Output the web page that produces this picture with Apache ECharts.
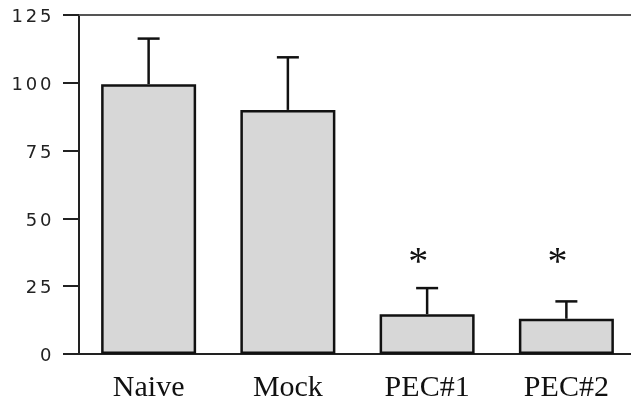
<!DOCTYPE html>
<html>
<head>
<meta charset="utf-8">
<script src="https://cdn.jsdelivr.net/npm/echarts@6/dist/echarts.min.js"></script>
<style>
html,body{margin:0;padding:0;background:#fff;}
#chart{width:631px;height:400px;}
</style>
</head>
<body>
<div id="chart"></div>
<script>
// data
var categories = ['Naive', 'Mock', 'PEC#1', 'PEC#2'];
var means = [99.5, 90, 14.7, 13];
var errTops = [116.3, 109.4, 24.3, 19.4];
var starCats = [2, 3];
var starLevel = 35.3;
var yTicks = [0, 25, 50, 75, 100, 125];

var myChart = echarts.init(document.getElementById('chart'));

//误差线
function renderErr(params, api){
    var cat = api.value(0);
    var top = api.coord([cat, api.value(2)]);
    var base = api.coord([cat, api.value(1)]);
    var half = 11;
    var st = {stroke:'#111', lineWidth:2.5};
    return {
        type:'group',
        children:[
            {type:'line', shape:{x1:top[0], y1:base[1], x2:top[0], y2:top[1]}, style:st},
            {type:'line', shape:{x1:top[0]-half, y1:top[1], x2:top[0]+half, y2:top[1]}, style:st}
        ]
    };
}
//星号
function renderStar(params, api){
    var p = api.coord([api.value(0), api.value(1)]);
    return {
        type:'text',
        style:{
            text:'*', x:p[0]-9, y:p[1]+5,
            fill:'#111', font:'40px "Liberation Serif"',
            align:'center', verticalAlign:'middle'
        }
    };
}

function digits(v){
    var s = String(v), out = '';
    for(var i=0;i<s.length;i++) out += '{d|'+s.charAt(i)+'}';
    return out;
}

var errData = [], starData = [];
for(var i=0;i<categories.length;i++) errData.push([i, means[i], errTops[i]]);
for(var k=0;k<starCats.length;k++) starData.push([starCats[k], starLevel]);

option = {
    animation:false,
    grid:{left:79, right:-5, top:15, bottom:46, outerBoundsMode:'none', containLabel:false},
    xAxis:[{
        type:'category',
        data:categories,
        axisLine:{lineStyle:{color:'#222', width:2}},
        axisTick:{alignWithLabel:true, length:9, lineStyle:{color:'#222', width:2}},
        axisLabel:{color:'#111', fontFamily:'Liberation Serif', fontSize:30, margin:19}
    },{
        type:'category',
        position:'top',
        data:categories,
        axisLine:{lineStyle:{color:'#555', width:2}},
        axisTick:{show:false},
        axisLabel:{show:false}
    }],
    yAxis:{
        type:'value',
        min:0, max:125, interval:25,
        splitLine:{show:false},
        axisLine:{show:true, lineStyle:{color:'#222', width:2}},
        axisTick:{show:true, length:16, lineStyle:{color:'#222', width:2}},
        axisLabel:{
            margin:26,
            formatter:function(v){ return yTicks.indexOf(v) >= 0 ? digits(v) : ''; },
            rich:{d:{width:14.3, align:'center', fontFamily:'DejaVu Sans', fontSize:18, color:'#222', padding:[5,0,0,0]}}
        }
    },
    series:[{
        type:'bar',
        data:means,
        barWidth:95,
        itemStyle:{color:'#d7d7d7', borderColor:'#111', borderWidth:2.5}
    },{
        type:'custom',
        renderItem:renderErr,
        data:errData,
        z:3
    },{
        type:'custom',
        renderItem:renderStar,
        data:starData,
        z:3
    }]
};
myChart.setOption(option);
</script>
</body>
</html>
